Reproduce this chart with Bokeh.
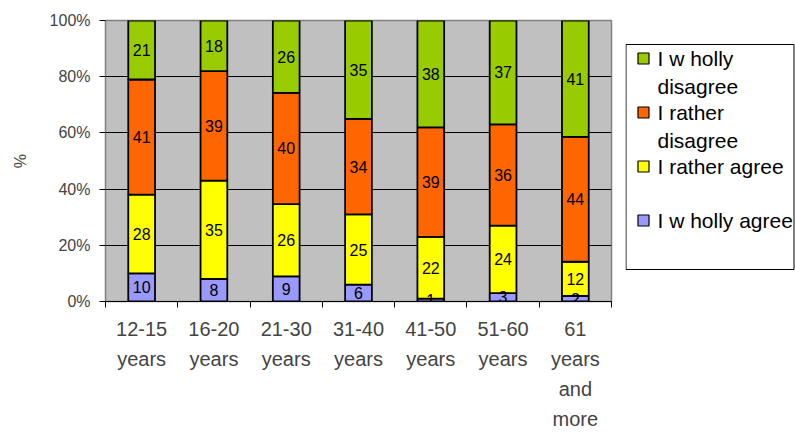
from bokeh.plotting import figure
from bokeh.layouts import row
from bokeh.models import ColumnDataSource, FixedTicker, Range1d
from bokeh.core.properties import value
from bokeh.embed import file_html
from bokeh.resources import INLINE

categories = ["12-15\nyears", "16-20\nyears", "21-30\nyears", "31-40\nyears",
              "41-50\nyears", "51-60\nyears", "61\nyears\nand\nmore"]
wholly_agree = [10, 8, 9, 6, 1, 3, 2]
rather_agree = [28, 35, 26, 25, 22, 24, 12]
rather_disagree = [41, 39, 40, 34, 39, 36, 44]
wholly_disagree = [21, 18, 26, 35, 38, 37, 41]
legend_labels = ["I w holly\ndisagree", "I rather\ndisagree", "I rather agree", "I w holly agree"]
colors = ["#9999FF", "#FFFF00", "#FF6600", "#99CC00"]
y_ticks = [0, 20, 40, 60, 80, 100]

FONT = "Liberation Sans"
series = [wholly_agree, rather_agree, rather_disagree, wholly_disagree]
n = len(categories)
totals = [sum(s[i] for s in series) for i in range(n)]
xs = [i + 0.5 for i in range(n)]

p = figure(width=625, height=432, x_range=Range1d(0, n), y_range=Range1d(0, 100),
           output_backend="svg", toolbar_location=None,
           min_border_left=105, min_border_right=14, min_border_top=20, min_border_bottom=130)
p.title_location = None
p.background_fill_color = "#C0C0C0"
p.border_fill_color = "white"
p.outline_line_color = "#808080"
p.outline_line_width = 1.5

bx, bb, bt, bc, lx, ly, lt = [], [], [], [], [], [], []
for i in range(n):
    acc = 0.0
    for k, s in enumerate(series):
        h = s[i] / totals[i] * 100.0
        bx.append(xs[i]); bb.append(acc); bt.append(acc + h); bc.append(colors[k])
        lx.append(xs[i]); ly.append(acc + h / 2); lt.append(str(s[i]))
        acc += h

p.vbar(x="x", bottom="b", top="t", width=0.37, fill_color="c", line_color="black", line_width=1.8,
       source=ColumnDataSource(dict(x=bx, b=bb, t=bt, c=bc)))
p.text(x="x", y="y", text="t", source=ColumnDataSource(dict(x=lx, y=ly, t=lt)),
       text_align="center", text_baseline="middle", text_font=value(FONT),
       text_font_size="16px", text_color="black")

p.xgrid.visible = False
p.ygrid.grid_line_color = "black"
p.ygrid.grid_line_width = 1
p.ygrid.ticker = FixedTicker(ticks=y_ticks)

p.yaxis.ticker = FixedTicker(ticks=y_ticks)
p.yaxis.major_label_overrides = {t: f"{t}%" for t in y_ticks}
p.yaxis.minor_tick_line_color = None
p.yaxis.major_tick_in = 0
p.yaxis.major_tick_out = 6
p.yaxis.axis_line_color = "#808080"
p.yaxis.major_tick_line_color = "black"
p.yaxis.major_label_text_font = FONT
p.yaxis.major_label_text_font_size = "16px"
p.yaxis.major_label_standoff = 9
p.yaxis.axis_label = "%"
p.yaxis.axis_label_text_font = FONT
p.yaxis.axis_label_text_font_style = "normal"
p.yaxis.axis_label_text_font_size = "16px"
p.yaxis.axis_label_standoff = 18

p.xaxis.ticker = FixedTicker(ticks=xs, minor_ticks=list(range(n + 1)))
p.xaxis.major_label_overrides = {x: c for x, c in zip(xs, categories)}
p.xaxis.major_tick_line_color = None
p.xaxis.major_tick_in = 0
p.xaxis.major_tick_out = 0
p.xaxis.minor_tick_in = 0
p.xaxis.minor_tick_out = 6
p.xaxis.minor_tick_line_color = "black"
p.xaxis.axis_line_color = "black"
p.xaxis.major_label_text_font = FONT
p.xaxis.major_label_text_font_size = "20px"
p.xaxis.major_label_text_line_height = 1.37
p.xaxis.major_label_standoff = 10

# legend panel (its frame is placed 19 px lower by the layout, so the range starts at 19)
lg = figure(frame_width=170, frame_height=432, x_range=Range1d(0, 170), y_range=Range1d(451, 19),
            output_backend="svg", toolbar_location=None, min_border=0)
lg.title_location = None
lg.axis.visible = False
lg.grid.visible = False
lg.outline_line_color = None
lg.background_fill_color = "white"
lg.border_fill_color = "white"
lg.quad(left=[0.5], right=[168.5], top=[43], bottom=[268], fill_color=None,
        line_color="black", line_width=1)
order = list(range(len(legend_labels)))
sq_y = [57 + 54 * j for j in order]
leg_colors = [colors[len(colors) - 1 - j] for j in order]
lg.rect(x=[18] * len(order), y=sq_y, width=11, height=11, fill_color=leg_colors,
        line_color="black", line_width=1.2)
tx, ty, tt = [], [], []
for j, lab in enumerate(legend_labels):
    for m, line in enumerate(lab.split("\n")):
        tx.append(32); ty.append(sq_y[j] + 28 * m); tt.append(line)
lg.text(x=tx, y=ty, text=tt, text_align="left", text_baseline="middle",
        text_font=value(FONT), text_font_size="21px", text_color="black")

layout = row(p, lg)
open("out.html", "w").write(file_html(layout, INLINE))
